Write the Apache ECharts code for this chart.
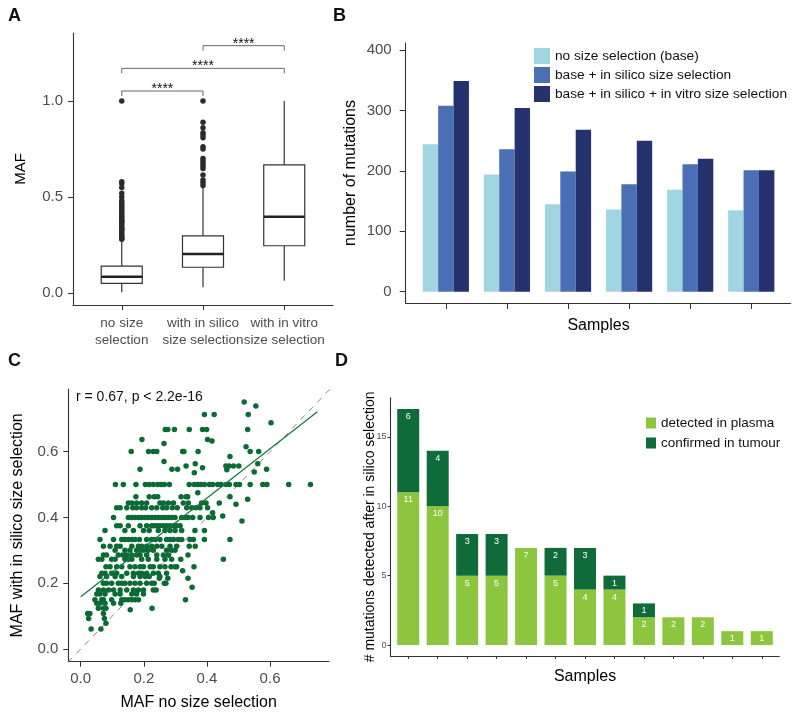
<!DOCTYPE html>
<html><head><meta charset="utf-8">
<script src="https://cdn.jsdelivr.net/npm/echarts@6/dist/echarts.min.js"></script>
<style>html,body{margin:0;padding:0;background:#fff}#c{width:800px;height:717px}</style>
</head><body><div id="c"></div>
<script>
// ---------- Panel A data ----------
const boxCategories = ['no size\nselection', 'with in silico\nsize selection', 'with in vitro\nsize selection'];
// [lower whisker, Q1, median, Q3, upper whisker]
const boxStats = [
  [0.004, 0.050, 0.085, 0.140, 0.276],
  [0.030, 0.134, 0.203, 0.298, 0.554],
  [0.064, 0.246, 0.397, 0.667, 1.000]
];
const outliersNoSize = [0.28,0.285,0.29,0.30,0.31,0.32,0.33,0.333,0.34,0.35,0.36,0.37,0.375,0.38,0.39,0.40,0.41,0.42,0.43,0.44,0.45,0.46,0.47,0.48,0.50,0.52,0.55,0.57,0.58,1.0];
const outliersInSilico = [0.56,0.575,0.589,0.615,0.649,0.661,0.675,0.688,0.701,0.750,0.762,0.809,0.823,0.835,0.861,0.889,1.0];
const bracketFrom = [1, 1, 2];
const bracketTo = [2, 3, 3];
const bracketY = [1.052, 1.170, 1.288];
const bracketText = ['****', '****', '****'];

// ---------- Panel B data ----------
const samplesB = ['S1','S2','S3','S4','S5','S6'];
const seriesNamesB = ['no size selection (base)', 'base + in silico size selection', 'base + in silico + in vitro size selection'];
const baseCounts = [244, 194, 145, 136, 169, 135];
const inSilicoCounts = [308, 236, 199, 178, 211, 201];
const inVitroCounts = [349, 304, 268, 250, 220, 201];
const ticksB = [0, 100, 200, 300, 400];

// ---------- Panel C data ----------
// each row: [MAF with in silico size selection, [MAF no size selection values]]
const scatterRows = [
  [0.751,[0.518]],
  [0.739,[0.555]],
  [0.713,[0.392,0.423,0.531]],
  [0.688,[0.603]],
  [0.667,[0.268,0.276,0.297,0.344,0.386,0.399,0.529]],
  [0.637,[0.194,0.402]],
  [0.632,[0.416]],
  [0.625,[0.264]],
  [0.615,[0.524]],
  [0.600,[0.160,0.215,0.230,0.241,0.323,0.327,0.372,0.537,0.564]],
  [0.585,[0.473]],
  [0.570,[0.264]],
  [0.563,[0.363,0.561]],
  [0.556,[0.334,0.460,0.470,0.484,0.501]],
  [0.551,[0.386]],
  [0.546,[0.188,0.289,0.307,0.589]],
  [0.545,[0.463]],
  [0.538,[0.550]],
  [0.536,[0.360]],
  [0.500,[0.110,0.135,0.175,0.205,0.217,0.230,0.244,0.255,0.265,0.281,0.344,0.360,0.371,0.381,0.392,0.408,0.418,0.434,0.445,0.460,0.471,0.492,0.503,0.537,0.577,0.590,0.659,0.728]],
  [0.475,[0.371]],
  [0.463,[0.175,0.217,0.233,0.244,0.318,0.334,0.339,0.473]],
  [0.455,[0.529]],
  [0.444,[0.151,0.162,0.177,0.193,0.209,0.251,0.262,0.278,0.294,0.325,0.341,0.383,0.397,0.439]],
  [0.440,[0.492]],
  [0.429,[0.114,0.125,0.146,0.165,0.177,0.193,0.206,0.225,0.241,0.260,0.272,0.290,0.306,0.336,0.352,0.365,0.378,0.402]],
  [0.414,[0.418]],
  [0.404,[0.450]],
  [0.400,[0.104,0.151,0.162,0.172,0.183,0.193,0.204,0.214,0.225,0.236,0.246,0.257,0.267,0.278,0.288,0.299,0.320,0.331,0.341,0.355,0.378,0.405,0.420]],
  [0.389,[0.511]],
  [0.375,[0.114,0.125,0.151,0.188,0.209,0.225,0.232,0.241,0.251,0.262,0.272,0.283,0.294,0.304,0.315]],
  [0.360,[0.077,0.140,0.167,0.199,0.217,0.246,0.267,0.283,0.299,0.320,0.362,0.392]],
  [0.333,[0.061,0.104,0.130,0.140,0.151,0.162,0.172,0.186,0.209,0.225,0.236,0.251,0.272,0.283,0.294,0.309,0.320,0.346,0.357,0.392,0.473]],
  [0.312,[0.072,0.093,0.114,0.125,0.162,0.183,0.193,0.209,0.225,0.241,0.257,0.283,0.304,0.344,0.363]],
  [0.300,[0.109,0.140,0.156,0.177,0.188,0.199,0.214,0.230,0.272,0.288,0.299]],
  [0.286,[0.072,0.082,0.119,0.133,0.146,0.162,0.177,0.188,0.209,0.241,0.262,0.278,0.340]],
  [0.273,[0.056,0.067,0.098,0.109,0.140,0.151,0.162,0.193,0.214,0.241,0.267,0.288,0.317,0.452]],
  [0.250,[0.080,0.093,0.114,0.130,0.156,0.172,0.188,0.199,0.220,0.230,0.251,0.267,0.286,0.299,0.304,0.359]],
  [0.238,[0.323]],
  [0.230,[0.067,0.077,0.098,0.114,0.146,0.167,0.183,0.193,0.209,0.230,0.246,0.272]],
  [0.220,[0.061,0.082,0.109,0.130,0.167,0.188,0.204,0.217,0.251]],
  [0.215,[0.249,0.276,0.340]],
  [0.200,[0.072,0.082,0.098,0.119,0.130,0.140,0.156,0.172,0.188,0.209,0.225,0.233,0.265,0.270]],
  [0.188,[0.353]],
  [0.179,[0.056,0.072,0.088,0.104,0.125,0.146,0.167,0.183,0.199,0.230,0.239]],
  [0.167,[0.051,0.061,0.077,0.109,0.125,0.162,0.177,0.199]],
  [0.150,[0.045,0.067,0.072,0.098,0.130,0.140,0.151,0.162,0.172,0.183,0.332]],
  [0.139,[0.051,0.061,0.077,0.104,0.127]],
  [0.124,[0.056,0.072,0.080,0.226]],
  [0.119,[0.157]],
  [0.108,[0.022,0.029,0.072]],
  [0.093,[0.025,0.075]],
  [0.078,[0.080]],
  [0.061,[0.033,0.064]]
];
const regressionLine = [[0.0, 0.159], [0.75, 0.721]];
const identityLine = [[-0.04, -0.04], [0.79, 0.79]];
const ticksC = [0, 0.2, 0.4, 0.6];
const corrText = 'r = 0.67, p < 2.2e-16';

// ---------- Panel D data ----------
const samplesD = ['D1','D2','D3','D4','D5','D6','D7','D8','D9','D10','D11','D12','D13'];
const seriesNamesD = ['detected in plasma', 'confirmed in tumour'];
const plasmaCounts = [11, 10, 5, 5, 7, 5, 4, 4, 2, 2, 2, 1, 1];
const tumourCounts = [6, 4, 3, 3, 0, 2, 3, 1, 1, 0, 0, 0, 0];
const ticksD = [0, 5, 10, 15];

// ---------- styling ----------
const FONT = '"Liberation Sans", Arial, Helvetica, sans-serif';
const AX = '#333333';
const TXT = '#4d4d4d';
const colB = ['#a2d5e2', '#4a6fb5', '#25326e'];
const colD = ['#8cc63f', '#0f6b3a'];
const colC = '#0c6a34';

const scatterPoints = [];
scatterRows.forEach(r => r[1].forEach(x => scatterPoints.push([x, r[0]])));

const chart = echarts.init(document.getElementById('c'), null, {width: 800, height: 717});

function valueAxisBase(extra) {
  return Object.assign({
    type: 'value', splitLine: {show: false}, nameMoveOverlap: false,
    axisLine: {show: true, onZero: false, lineStyle: {color: AX, width: 1.1}},
    axisTick: {show: true, length: 5, lineStyle: {color: AX, width: 1}},
    axisLabel: {show: true, color: TXT, fontSize: 15, fontFamily: FONT},
    nameTextStyle: {color: '#000', fontSize: 16, fontFamily: FONT}
  }, extra);
}
function hiddenLineCategory(gridIndex, data, extra) {
  return Object.assign({
    gridIndex: gridIndex, type: 'category', data: data, nameMoveOverlap: false,
    axisLine: {show: true, onZero: false, lineStyle: {color: AX, opacity: 0}},
    axisTick: {show: false}, axisLabel: {show: false}
  }, extra);
}

const option = {
  animation: false,
  textStyle: {fontFamily: FONT},
  title: [
    {text: 'A', left: 8, top: 7, padding: 0, textStyle: {fontSize: 18, fontWeight: 'bold', color: '#111', fontFamily: FONT}},
    {text: 'B', left: 333, top: 7, padding: 0, textStyle: {fontSize: 18, fontWeight: 'bold', color: '#111', fontFamily: FONT}},
    {text: 'C', left: 8, top: 352, padding: 0, textStyle: {fontSize: 18, fontWeight: 'bold', color: '#111', fontFamily: FONT}},
    {text: 'D', left: 335, top: 352, padding: 0, textStyle: {fontSize: 18, fontWeight: 'bold', color: '#111', fontFamily: FONT}},
    {text: corrText, left: 76, top: 390, padding: 0, textStyle: {fontSize: 14, fontWeight: 'normal', color: '#111', fontFamily: FONT}}
  ],
  legend: [
    {data: seriesNamesB, left: 529, top: 43, orient: 'vertical', icon: 'rect', itemWidth: 16, itemHeight: 16, itemGap: 3,
     selectedMode: false, textStyle: {fontSize: 13.7, color: '#111', fontFamily: FONT}},
    {data: seriesNamesD, left: 641, top: 411, orient: 'vertical', icon: 'rect', itemWidth: 10, itemHeight: 11, itemGap: 6,
     selectedMode: false, textStyle: {fontSize: 13.5, color: '#111', fontFamily: FONT}}
  ],
  grid: [
    {left: 73, top: 33, width: 260, height: 272, outerBoundsMode: 'none'},          // 0: A
    {left: 405.7, top: 43, width: 385, height: 260, outerBoundsMode: 'none'},       // 1: B outer
    {left: 415.3, top: 43, width: 366.5, height: 260, outerBoundsMode: 'none'},     // 2: B inner
    {left: 68.3, top: 389, width: 260.7, height: 272.7, outerBoundsMode: 'none'},   // 3: C
    {left: 390.5, top: 397.7, width: 388.8, height: 258.3, outerBoundsMode: 'none'},// 4: D outer
    {left: 393.5, top: 397.7, width: 383, height: 258.3, outerBoundsMode: 'none'},  // 5: D inner
    {left: 81.125, top: 33, width: 243.75, height: 272, outerBoundsMode: 'none'}    // 6: A category labels
  ],
  xAxis: [
    valueAxisBase({gridIndex: 0, min: 0.4, max: 3.6,
      axisTick: {show: true, customValues: [1, 2, 3], length: 5, lineStyle: {color: AX}},
      axisLabel: {show: false}}),
    valueAxisBase({gridIndex: 1, min: 0, max: 1, axisTick: {show: false}, axisLabel: {show: false}}),
    hiddenLineCategory(2, samplesB, {
      axisTick: {show: true, alignWithLabel: true, length: 6, lineStyle: {color: AX, opacity: 1}},
      name: 'Samples', nameLocation: 'middle', nameGap: 15,
      nameTextStyle: {color: '#000', fontSize: 16, fontFamily: FONT}}),
    valueAxisBase({gridIndex: 3, min: -0.0393, max: 0.7868,
      axisTick: {show: true, customValues: ticksC, length: 5, lineStyle: {color: AX}},
      axisLabel: {show: true, customValues: ticksC, formatter: v => v.toFixed(1), color: TXT, fontSize: 15, margin: 10, fontFamily: FONT},
      name: 'MAF no size selection', nameLocation: 'middle', nameGap: 33}),
    valueAxisBase({gridIndex: 4, min: 0, max: 1, axisTick: {show: false}, axisLabel: {show: false}}),
    hiddenLineCategory(5, samplesD, {
      axisTick: {show: true, alignWithLabel: true, length: 3, lineStyle: {color: AX, opacity: 1}},
      name: 'Samples', nameLocation: 'middle', nameGap: 13,
      nameTextStyle: {color: '#000', fontSize: 16, fontFamily: FONT}}),
    hiddenLineCategory(6, boxCategories, {
      axisLabel: {show: true, interval: 0, color: TXT, fontSize: 13.5, lineHeight: 17, margin: 10, fontFamily: FONT}})
  ],
  yAxis: [
    valueAxisBase({gridIndex: 0, min: -0.0625, max: 1.354, name: 'MAF', nameLocation: 'middle', nameGap: 45,
      nameTextStyle: {color: '#000', fontSize: 15, fontFamily: FONT},
      axisTick: {show: true, customValues: [0, 0.5, 1], length: 5, lineStyle: {color: AX}},
      axisLabel: {show: true, customValues: [0, 0.5, 1], formatter: v => v.toFixed(1), color: TXT, fontSize: 15, margin: 10, fontFamily: FONT}}),
    valueAxisBase({gridIndex: 1, min: -18.7, max: 411.8, name: 'number of mutations', nameLocation: 'middle', nameGap: 47,
      axisTick: {show: true, customValues: ticksB, length: 6, lineStyle: {color: AX}},
      axisLabel: {show: true, customValues: ticksB, color: TXT, fontSize: 15, margin: 14, fontFamily: FONT}}),
    {gridIndex: 2, type: 'value', min: -18.7, max: 411.8, show: false},
    valueAxisBase({gridIndex: 3, min: -0.0386, max: 0.7903, name: 'MAF with in silico size selection', nameLocation: 'middle', nameGap: 43,
      axisTick: {show: true, customValues: ticksC, length: 5, lineStyle: {color: AX}},
      axisLabel: {show: true, customValues: ticksC, formatter: v => v.toFixed(1), color: TXT, fontSize: 15, margin: 10, fontFamily: FONT}}),
    valueAxisBase({gridIndex: 4, min: -0.79, max: 17.82, name: '# mutations detected after in silico selection', nameLocation: 'middle', nameGap: 13,
      nameTextStyle: {color: '#000', fontSize: 14, fontFamily: FONT},
      axisTick: {show: true, customValues: ticksD, length: 3, lineStyle: {color: AX}},
      axisLabel: {show: true, customValues: ticksD, color: TXT, fontSize: 9, margin: 4, fontFamily: FONT}}),
    {gridIndex: 5, type: 'value', min: -0.79, max: 17.82, show: false},
    {gridIndex: 6, type: 'value', min: -0.0625, max: 1.354, show: false}
  ],
  series: [
    // ----- A: boxes -----
    {type: 'custom', xAxisIndex: 0, yAxisIndex: 0, z: 2,
     data: boxStats.map((s, i) => [i + 1].concat(s)),
     renderItem: (params, api) => {
       const x = api.value(0);
       const half = api.size([0.505, 0])[0] / 2;
       const c = y => api.coord([x, y]);
       const pMin = c(api.value(1)), pQ1 = c(api.value(2)), pMd = c(api.value(3)), pQ3 = c(api.value(4)), pMax = c(api.value(5));
       const ls = {stroke: AX, lineWidth: 1.2, fill: null};
       return {type: 'group', children: [
         {type: 'line', shape: {x1: pMin[0], y1: pMin[1], x2: pQ1[0], y2: pQ1[1]}, style: ls},
         {type: 'line', shape: {x1: pQ3[0], y1: pQ3[1], x2: pMax[0], y2: pMax[1]}, style: ls},
         {type: 'rect', shape: {x: pQ1[0] - half, y: pQ3[1], width: 2 * half, height: pQ1[1] - pQ3[1]}, style: {stroke: AX, lineWidth: 1.2, fill: '#fff'}},
         {type: 'line', shape: {x1: pMd[0] - half, y1: pMd[1], x2: pMd[0] + half, y2: pMd[1]}, style: {stroke: '#222', lineWidth: 2.6}}
       ]};
     }},
    {type: 'scatter', xAxisIndex: 0, yAxisIndex: 0, z: 3, symbolSize: 5.5, itemStyle: {color: '#2b2b2b', opacity: 1},
     data: outliersNoSize.map(v => [1, v]).concat(outliersInSilico.map(v => [2, v]))},
    {type: 'custom', xAxisIndex: 0, yAxisIndex: 0, z: 3,
     data: bracketFrom.map((f, i) => [f, bracketTo[i], bracketY[i]]),
     renderItem: (params, api) => {
       const p1 = api.coord([api.value(0), api.value(2)]);
       const p2 = api.coord([api.value(1), api.value(2)]);
       return {type: 'group', children: [
         {type: 'polyline', shape: {points: [[p1[0], p1[1] + 5], p1, p2, [p2[0], p2[1] + 5]]}, style: {stroke: '#666', lineWidth: 1, fill: null}},
         {type: 'text', x: (p1[0] + p2[0]) / 2, y: p1[1] - 2, style: {text: bracketText[params.dataIndex], fill: '#111', fontSize: 14, fontFamily: FONT, align: 'center', verticalAlign: 'middle'}}
       ]};
     }},
    // ----- B: bars -----
    {name: seriesNamesB[0], type: 'bar', xAxisIndex: 2, yAxisIndex: 2, data: baseCounts, barWidth: 15.4, barGap: '0%', itemStyle: {color: colB[0]}},
    {name: seriesNamesB[1], type: 'bar', xAxisIndex: 2, yAxisIndex: 2, data: inSilicoCounts, barWidth: 15.4, barGap: '0%', itemStyle: {color: colB[1]}},
    {name: seriesNamesB[2], type: 'bar', xAxisIndex: 2, yAxisIndex: 2, data: inVitroCounts, barWidth: 15.4, barGap: '0%', itemStyle: {color: colB[2]}},
    // ----- C: scatter -----
    {type: 'line', xAxisIndex: 3, yAxisIndex: 3, data: identityLine, showSymbol: false, silent: true, z: 1,
     lineStyle: {color: '#777', width: 0.9, type: [6, 6]}},
    {type: 'scatter', xAxisIndex: 3, yAxisIndex: 3, data: scatterPoints, symbolSize: 5.5, z: 2, itemStyle: {color: colC, opacity: 1}},
    {type: 'line', xAxisIndex: 3, yAxisIndex: 3, data: regressionLine, showSymbol: false, silent: true, z: 3,
     lineStyle: {color: '#177a3c', width: 1.3}},
    // ----- D: stacked bars -----
    {name: seriesNamesD[0], type: 'bar', stack: 'd', xAxisIndex: 5, yAxisIndex: 5, data: plasmaCounts, barWidth: 22,
     itemStyle: {color: colD[0]},
     label: {show: true, position: 'insideTop', distance: 3, color: '#fff', fontSize: 9, fontFamily: FONT, formatter: p => p.value > 0 ? p.value : ''}},
    {name: seriesNamesD[1], type: 'bar', stack: 'd', xAxisIndex: 5, yAxisIndex: 5, data: tumourCounts, barWidth: 22,
     itemStyle: {color: colD[1]},
     label: {show: true, position: 'insideTop', distance: 3, color: '#fff', fontSize: 9, fontFamily: FONT, formatter: p => p.value > 0 ? p.value : ''}}
  ]
};
chart.setOption(option);
</script>
</body></html>
